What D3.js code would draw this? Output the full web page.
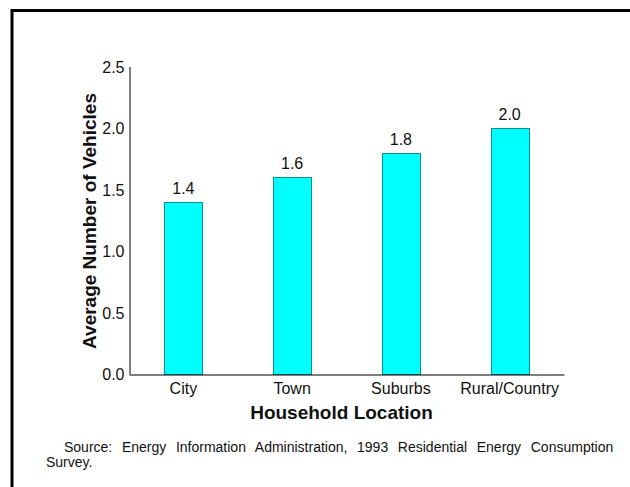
<!DOCTYPE html>
<html>
<head>
<meta charset="utf-8">
<script src="https://cdn.jsdelivr.net/npm/d3@7"></script>
<style>
  html, body { margin: 0; padding: 0; background: #fff; }
  svg { display: block; font-family: "Liberation Sans", Arial, Helvetica, sans-serif; }
</style>
</head>
<body>
<svg id="chart" width="630" height="487"></svg>
<script>
// Average vehicles per household by location (1993 RECS)
const categories = ["City", "Town", "Suburbs", "Rural/Country"];
const values = [1.4, 1.6, 1.8, 2.0];
const yTicks = [0, 0.5, 1.0, 1.5, 2.0, 2.5];
const xTitle = "Household Location";
const yTitle = "Average Number of Vehicles";
const sourceLines = [
  "Source:  Energy Information Administration, 1993 Residential Energy Consumption",
  "Survey."
];

const svg = d3.select("#chart");

// Frame: top and left rules of the page border
svg.append("path")
  .attr("d", "M12,487V10.5H630")
  .attr("fill", "none")
  .attr("stroke", "#000")
  .attr("stroke-width", 3);

const plot = { left: 129, right: 564, top: 66.5, bottom: 374 };

const x = d3.scaleBand()
  .domain(categories)
  .range([plot.left, plot.right])
  .paddingInner(0.65)
  .paddingOuter(0.325);

const y = d3.scaleLinear()
  .domain([0, 2.5])
  .range([plot.bottom, plot.top]);

// Bars
svg.append("g")
  .selectAll("rect")
  .data(values)
  .join("rect")
  .attr("x", (d, i) => Math.round(x(categories[i])) + 0.5)
  .attr("y", d => Math.round(y(d)) + 0.5)
  .attr("width", Math.round(x.bandwidth()))
  .attr("height", d => Math.round(y(0)) - Math.round(y(d)))
  .attr("fill", "#00ffff")
  .attr("stroke", "#0b8f8f")
  .attr("stroke-width", 1);

// Value labels above bars
svg.append("g")
  .selectAll("text")
  .data(values)
  .join("text")
  .attr("x", (d, i) => x(categories[i]) + x.bandwidth() / 2)
  .attr("y", d => y(d) - 8)
  .attr("text-anchor", "middle")
  .attr("font-size", 16)
  .attr("fill", "#111")
  .text(d => d3.format(".1f")(d));

// Y axis
const yAxis = svg.append("g")
  .attr("transform", `translate(${plot.left + 0.5},0)`)
  .call(d3.axisLeft(y).tickValues(yTicks).tickFormat(d3.format(".1f")).tickSize(0).tickPadding(5));
yAxis.select(".domain").attr("stroke", "#000").attr("stroke-width", 1);
yAxis.selectAll("text")
  .attr("font-size", 16)
  .attr("font-family", "Liberation Sans, Arial, sans-serif")
  .attr("fill", "#111")
  .attr("dy", "0.35em");

// X axis
const xAxis = svg.append("g")
  .attr("transform", `translate(0,${plot.bottom + 0.5})`)
  .call(d3.axisBottom(x).tickSize(0).tickPadding(8));
xAxis.select(".domain").attr("stroke", "#000").attr("stroke-width", 1);
xAxis.selectAll("text")
  .attr("font-size", 16)
  .attr("font-family", "Liberation Sans, Arial, sans-serif")
  .attr("fill", "#111")
  .attr("dy", "0.71em");

// Axis titles
svg.append("text")
  .attr("x", (plot.left + plot.right) / 2 - 5)
  .attr("y", 419)
  .attr("text-anchor", "middle")
  .attr("font-size", 19)
  .attr("font-weight", "bold")
  .attr("fill", "#111")
  .text(xTitle);

svg.append("text")
  .attr("transform", "translate(95.5,221) rotate(-90)")
  .attr("text-anchor", "middle")
  .attr("font-size", 19)
  .attr("font-weight", "bold")
  .attr("fill", "#111")
  .text(yTitle);

// Source note, first line justified to the right margin
const src1 = svg.append("text")
  .attr("x", 64)
  .attr("y", 452)
  .attr("font-size", 14)
  .attr("fill", "#111")
  .text(sourceLines[0]);
const natural = src1.node().getComputedTextLength();
const spaces = (sourceLines[0].match(/ /g) || []).length;
const extra = (619 - 64 - natural) / spaces;
if (extra > 0) src1.attr("word-spacing", extra);

svg.append("text")
  .attr("x", 46)
  .attr("y", 467)
  .attr("font-size", 14)
  .attr("fill", "#111")
  .text(sourceLines[1]);
</script>
</body>
</html>
